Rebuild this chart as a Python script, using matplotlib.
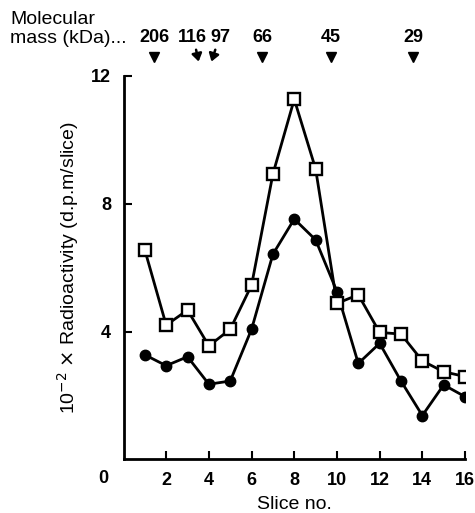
import matplotlib
matplotlib.use('Agg')
import matplotlib.pyplot as plt

# Slice data (values are 10^-2 x d.p.m/slice)
slices = list(range(1, 17))
open_sq = [6.55, 4.2, 4.67, 3.55, 4.07, 5.45, 8.93, 11.27, 9.09, 4.88, 5.15, 3.97, 3.92, 3.08, 2.74, 2.59]
filled = [3.27, 2.93, 3.21, 2.35, 2.45, 4.07, 6.42, 7.52, 6.87, 5.25, 3.0, 3.63, 2.45, 1.37, 2.33, 1.96]

# Molecular mass markers (kDa) and their slice positions
mm_labels = ['206', '116', '97', '66', '45', '29']
mm_pos = [1.43, 3.52, 4.12, 6.5, 9.72, 13.58]
mm_label_x = [1.43, 3.23, 4.52, 6.5, 9.72, 13.58]
mm_tail_x = [None, 3.40, 4.30, None, None, None]

plt.rcParams['font.family'] = ['Liberation Sans', 'DejaVu Sans']

fig = plt.figure(figsize=(4.75, 5.13), dpi=100)
ax = fig.add_axes([0.26, 0.1047, 0.979 - 0.26, 0.852 - 0.1047])

ax.plot(slices, filled, color='black', lw=2, marker='o', ms=7.5,
        mfc='black', mec='black', zorder=3)
ax.plot(slices, open_sq, color='black', lw=2, marker='s', ms=9,
        mfc='white', mec='black', mew=1.7, zorder=4)

ax.set_xlim(0, 16)
ax.set_ylim(0, 12)
ax.set_xticks(range(2, 17, 2))
ax.set_yticks([4, 8, 12])
ax.tick_params(direction='in', length=6, width=1.5, labelsize=13, pad=9)
for lab in ax.get_xticklabels() + ax.get_yticklabels():
    lab.set_fontweight('bold')
for s in ['top', 'right']:
    ax.spines[s].set_visible(False)
for s in ['left', 'bottom']:
    ax.spines[s].set_linewidth(2)

# origin label
ax.text(-0.95, -0.59, '0', ha='center', va='center', fontsize=13,
        fontweight='bold', clip_on=False)

ax.set_xlabel('Slice no.', fontsize=14, labelpad=5)
ax.set_ylabel(r'10$^{-2}$ $\times$ Radioactivity (d.p.m/slice)', fontsize=14,
              labelpad=7)

# molecular mass markers above the axes
for lab, xp, lx, tx in zip(mm_labels, mm_pos, mm_label_x, mm_tail_x):
    ax.text(lx, 13.2, lab, ha='center', va='center', fontsize=13,
            fontweight='bold', clip_on=False)
    if tx is not None:
        ax.annotate('', xy=(xp, 12.45), xytext=(tx, 12.82),
                    annotation_clip=False,
                    arrowprops=dict(arrowstyle='-|>,head_width=0.3,head_length=0.45',
                                    color='black', lw=1.8, shrinkA=0, shrinkB=0,
                                    mutation_scale=10))
    else:
        ax.plot([xp], [12.6], marker='v', ms=7, color='black', clip_on=False)

fig.text(0.021, 0.978, 'Molecular\nmass (kDa)...', ha='left', va='top',
         fontsize=14, linespacing=1.15)

fig.savefig('out.png', dpi=100)
